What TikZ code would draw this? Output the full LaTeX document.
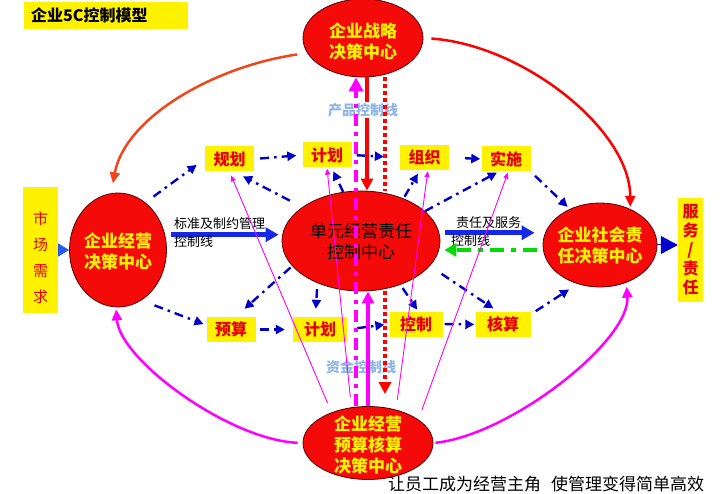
\documentclass[tikz,border=0pt]{standalone}
\usepackage{fontspec}
\usepackage{tikz}
\usetikzlibrary{shapes,arrows.meta,positioning}
\newfontfamily\cjk{Noto Sans CJK SC}
\definecolor{ellred}{RGB}{245,10,10}
\definecolor{elldark}{RGB}{90,0,0}
\definecolor{boxred}{RGB}{230,0,0}
\definecolor{dashblue}{RGB}{0,0,200}
\definecolor{thickblue}{RGB}{20,40,230}
\definecolor{sideblue}{RGB}{40,90,240}
\definecolor{ctrlgreen}{RGB}{0,220,0}
\definecolor{pink}{RGB}{255,0,255}
\definecolor{arcorange}{RGB}{240,70,30}
\definecolor{lightblue}{RGB}{140,180,230}
\tikzstyle{bigell}=[ellipse, draw=elldark, fill=ellred, line width=0.8pt, inner sep=0pt]
\tikzstyle{elltext}=[align=center, text=yellow, font=\cjk\bfseries\fontsize{17}{21}\selectfont]
\tikzstyle{boxy}=[fill=yellow, inner sep=0pt, minimum height=25pt, text=boxred, font=\cjk\bfseries\fontsize{16}{18}\selectfont]
\tikzstyle{sidebox}=[fill=yellow, inner sep=0pt]
\tikzstyle{lbl}=[inner sep=0pt, anchor=west, font=\cjk\fontsize{13}{15}\selectfont]
\tikzstyle{ctrl}=[inner sep=1pt, text=lightblue, font=\cjk\bfseries\fontsize{14}{16}\selectfont]
\tikzstyle{dashy}=[line width=2.4pt, color=dashblue, dash pattern=on 9pt off 5pt on 2.5pt off 5pt, -{Triangle[length=9pt,width=9pt]}]
\tikzstyle{thickline}=[line width=5pt, color=thickblue, -{Triangle[length=13pt,width=14pt]}]
\tikzstyle{greenline}=[line width=4.5pt, color=ctrlgreen, dash pattern=on 14pt off 7pt on 5pt off 7pt, -{Triangle[length=12pt,width=13pt]}]
\tikzstyle{redline}=[line width=3.5pt, color=red, -{Triangle[length=12pt,width=12pt]}]
\tikzstyle{reddots}=[line width=3.5pt, color=red, dash pattern=on 3.5pt off 3.5pt]
\tikzstyle{pinkdash}=[line width=4.5pt, color=pink, dash pattern=on 12pt off 6pt on 4pt off 6pt, -{Triangle[length=14pt,width=14pt]}]
\tikzstyle{pinkline}=[line width=4pt, color=pink, -{Triangle[length=12pt,width=12pt]}]
\tikzstyle{thinpink}=[line width=0.9pt, color=pink, -{Triangle[length=6pt,width=5pt]}]
\tikzstyle{arcline}=[line width=2.5pt, -{Triangle[length=11pt,width=10pt]}]

\begin{document}
\begin{tikzpicture}[x=1pt, y=1pt, yscale=-1]
		\useasboundingbox (0,0) rectangle (720,494);

		% title
		\node[sidebox, minimum width=164pt, minimum height=27pt] (title) at (106,15.5) {};
		\node[inner sep=0pt, anchor=west, font=\cjk\bfseries\fontsize{16}{18}\selectfont] (title-t) at (31,15.5) {企业5C控制模型};

		% decision centres
		\node[bigell, minimum width=120pt, minimum height=78pt] (zl) at (363,38) {};
		\node[elltext] (zl-t) at (363,41) {企业战略\\决策中心};
		\node[bigell, minimum width=97pt, minimum height=114pt] (jy) at (118,250) {};
		\node[elltext] (jy-t) at (118,251) {企业经营\\决策中心};
		\node[bigell, minimum width=158pt, minimum height=100pt] (dy) at (361,241) {};
		\node[elltext, text=black, font=\cjk\fontsize{17}{21}\selectfont] (dy-t) at (361,242) {单元经营责任\\控制中心};
		\node[bigell, minimum width=114pt, minimum height=84pt] (sh) at (600,245) {};
		\node[elltext] (sh-t) at (600,245.5) {企业社会责\\任决策中心};
		\node[bigell, minimum width=130pt, minimum height=73pt] (ys) at (368,443) {};
		\node[elltext] (ys-t) at (368,445) {企业经营\\预算核算\\决策中心};

		% side boxes
		\node[sidebox, minimum width=35pt, minimum height=126pt] (sc) at (40.5,250) {};
		\node[align=center, text=boxred, font=\cjk\fontsize{15}{26}\selectfont] (sc-t) at (40.5,258) {市\\场\\需\\求};
		\node[sidebox, minimum width=25pt, minimum height=104pt] (fw) at (690.5,250) {};
		\node[align=center, text=boxred, font=\cjk\bfseries\fontsize{16}{19}\selectfont] (fw-t) at (690.5,250) {服\\务\\/\\责\\任};

		% small boxes
		\foreach \nm/\x/\y/\w/\txt in {gh/229.5/159/49/规划, jh1/327/155/49/计划, zz/424.5/157.5/49/组织, ss/506/159/49/实施,
				yu/231/329.5/49/预算, jh2/320/329.5/54/计划, kz/416/324/53/控制, hs/503/324.5/55/核算}{
			\node[boxy, minimum width=\w pt] (\nm) at (\x,\y) {\txt};
		}

		% big arcs
		\draw[arcline, color=arcorange, shorten <=10pt, shorten >=10pt] (zl.-165) .. controls +(-95,14) and +(14,-75) .. (jy.97);
		\draw[arcline, color=red, shorten <=8pt, shorten >=2pt] (zl.0) .. controls +(100,7) and +(0,-79) .. (sh.50);
		\draw[arcline, color=pink, shorten <=5pt, shorten >=2pt] (ys.180) .. controls +(-73,-3) and +(4,53) .. (jy.-92);
		\draw[arcline, color=pink, shorten <=2pt, shorten >=4pt] (ys.0) .. controls +(77,-8) and +(4,58) .. (sh.-55);

		% side triangles
		\draw[line width=1pt, color=sideblue, -{Triangle[length=11pt,width=13pt]}] (sc.east) -- (jy.west);
		\draw[line width=1pt, color=dashblue, -{Triangle[length=17pt,width=18pt]}] (sh.east) -- (sh.east -| fw.west);

		% control lines between centres
		\draw[thickline, shorten <=6pt, shorten >=3pt] (jy.18) -- (jy.18 -| dy.west);
		\node[lbl] (bz1) at (174,224) {标准及制约管理};
		\node[lbl] (bz2) at (174,242) {控制线};
		\draw[thickline, shorten <=6pt, shorten >=8pt] (dy.6) -- (dy.6 -| sh.west);
		\node[lbl] (zr1) at (456,223) {责任及服务};
		\node[lbl] (zr2) at (451,241) {控制线};
		\draw[greenline, shorten <=6pt, shorten >=4pt] (sh.-175) -- (sh.-175 -| dy.east);

		% upper chain
		\draw[dashy, shorten <=10pt, shorten >=10pt] (jy.60) -- (gh.west);
		\draw[dashy, shorten <=6pt, shorten >=6pt] (gh.east) -- (jh1.west);
		\draw[dashy, shorten <=5pt, shorten >=16pt] (jh1.east) -- (zz.west);
		\draw[dashy, shorten <=16pt, shorten >=1pt] (zz.east) -- (ss.west);
		\draw[dashy, shorten <=6pt, shorten >=3pt] (ss.south east) -- (sh.130);
		\draw[dashy, shorten <=14pt, shorten >=10pt] (dy.150) -- (gh.-70);
		\draw[dashy, shorten >=4pt] (dy.110) -- (jh1.-70);
		\draw[dashy, shorten <=2pt, shorten >=4pt] (dy.45) -- (zz.-110);
		\draw[dashy, shorten >=2pt] (dy.25) -- (ss.-120);

		% lower chain
		\draw[dashy, shorten <=14pt, shorten >=3pt] (jy.-65) -- (yu.170);
		\draw[dashy, shorten <=4pt, shorten >=8pt] (yu.east) -- (jh2.west);
		\draw[dashy, shorten <=10pt, shorten >=5pt] (jh2.east) -- (kz.west);
		\draw[dashy, shorten <=2pt, shorten >=1pt] (kz.east) -- (hs.west);
		\draw[dashy, shorten <=6pt, shorten >=10pt] (hs.20) -- (sh.-120);
		\draw[dashy, shorten <=2pt, shorten >=12pt] (dy.-160) -- (yu.70);
		\draw[dashy, shorten <=6pt, shorten >=8pt] (dy.-136) -- (jh2.110);
		\draw[dashy, shorten <=4pt, shorten >=2pt] (dy.-48) -- (kz.80);
		\draw[dashy, shorten <=14pt, shorten >=6pt] (dy.-20) -- (hs.110);

		% product and fund control lines
		\draw[redline] ([xshift=4pt]zl.south) -- ([xshift=4pt]zl.south |- dy.north);
		\node[ctrl, fill=white] (cp) at (363,110) {产品控制线};
		\node[ctrl] (cf) at (361,367) {资金控制线};
		\draw[reddots] ([xshift=22pt]zl.south) -- ([xshift=22pt]zl.south |- dy.north);
		\draw[reddots, -{Triangle[length=12pt,width=12pt]}, shorten >=12pt] ([xshift=24pt]dy.south) -- ([xshift=24pt]dy.south |- ys.north);
		\draw[pinkline] (ys.north) -- (ys.north |- dy.south);
		\draw[pinkdash] ([xshift=-12pt]ys.north) -- ([xshift=-12pt]ys.north |- zl.south);

		% thin lines from budget centre
		\draw[thinpink, shorten <=10pt, shorten >=4pt] (ys.140) -- (gh.south);
		\draw[thinpink, shorten <=10pt, shorten >=1pt] (ys.115) -- (jh1.south);
		\draw[thinpink, shorten <=10pt, shorten >=1pt] (ys.50) -- (zz.-75);
		\draw[thinpink, shorten <=10pt, shorten >=1pt] (ys.25) -- (ss.-80);

		% slogan
		\node[inner sep=0pt, anchor=west, font=\cjk\fontsize{17}{19}\selectfont] (slogan) at (388,484) {让员工成为经营主角\hspace{10pt}使管理变得简单高效};

\end{tikzpicture}
\end{document}
